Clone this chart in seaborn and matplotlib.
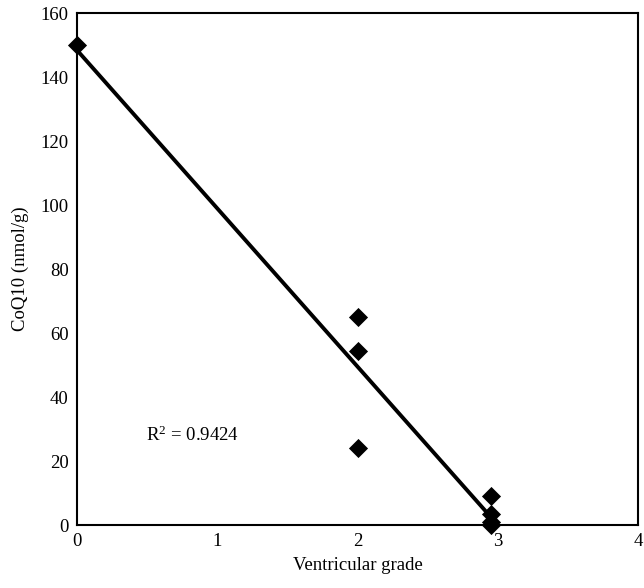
import matplotlib
matplotlib.use("Agg")
import matplotlib.pyplot as plt
import seaborn as sns
import pandas as pd

# Data
grade = [0, 2, 2, 2, 2.95, 2.95, 2.95, 2.95]
coq10 = [150, 65, 54.5, 24, 9, 3.5, 1, 0]
x_ticks = [0, 1, 2, 3, 4]
y_ticks = [0, 20, 40, 60, 80, 100, 120, 140, 160]
r2_label = "0.9424"

sns.set_theme(style="white")
plt.rcParams["font.family"] = ["Liberation Serif", "DejaVu Serif"]
plt.rcParams["mathtext.default"] = "regular"

df = pd.DataFrame({"grade": grade, "coq10": coq10})

fig = plt.figure(figsize=(6.44, 5.88), dpi=100)
ax = fig.add_axes([77 / 644, 1 - 525 / 588, (638 - 77) / 644, (525 - 13) / 588])

sns.regplot(data=df, x="grade", y="coq10", ax=ax, ci=None, truncate=True,
            marker="D",
            scatter_kws={"s": 95, "color": "black", "alpha": 1.0, "linewidths": 0,
                         "zorder": 3, "clip_on": False},
            line_kws={"color": "black", "linewidth": 2.8})

ax.set_xlim(0, 4)
ax.set_ylim(0, 160)
ax.set_xticks(x_ticks)
ax.set_yticks(y_ticks)
ax.tick_params(axis="both", direction="in", length=3, width=1, labelsize=13.5,
               colors="black", pad=6)
for s in ax.spines.values():
    s.set_color("black")
    s.set_linewidth(1.5)

ax.set_xlabel("Ventricular grade", fontsize=13.5, color="black", labelpad=5)
ax.set_ylabel("CoQ10 (nmol/g)", fontsize=13.5, color="black", labelpad=8)

ax.text(0.49, 28, "R$^{2}$ = " + r2_label, fontsize=13.5, color="black",
        ha="left", va="center")

fig.savefig("out.png", dpi=100)
